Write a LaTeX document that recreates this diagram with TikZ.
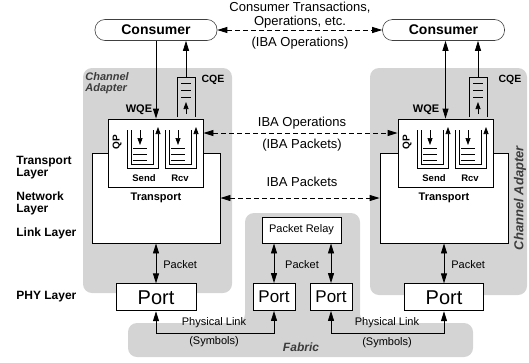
\documentclass[tikz,border=0pt]{standalone}
\usepackage{fontspec}
\setmainfont{Liberation Sans}
\usetikzlibrary{positioning,arrows.meta,calc}
\definecolor{cagray}{RGB}{212,212,212}
\definecolor{lblgray}{RGB}{60,60,60}
\newcommand{\fsz}[1]{\fontsize{#1}{#1}\selectfont}
\begin{document}
\begin{tikzpicture}[x=1pt,y=-1pt,line width=0.8pt,
    every node/.style={inner sep=1pt},
    onehead/.style={-{Triangle[length=10pt,width=6pt]}},
    twohead/.style={{Triangle[length=10pt,width=6pt]}-{Triangle[length=10pt,width=6pt]}},
    smallhead/.style={-{Triangle[length=7pt,width=5pt]}},
    ibadash/.style={twohead,dash pattern=on 5pt off 3pt},
    graybg/.style={fill=cagray,rounded corners=9pt},
    consumer/.style={draw=black!75,line width=0.6pt,fill=white,rounded corners=10pt,
        minimum width=122pt,minimum height=21pt,font=\fsz{14}\bfseries},
    plainbox/.style={draw,fill=white,inner sep=0pt},
    portbox/.style={plainbox,minimum height=27pt,font=\fsz{20}},
    layer/.style={anchor=west,align=left,font=\fontsize{12}{12}\selectfont\bfseries},
    small/.style={font=\fsz{11}}]
    \useasboundingbox (0,0) rectangle (529,362);
    % shaded regions
    \fill[graybg] (83,68) rectangle (232,293);
    \fill[graybg] (370,68) rectangle (527,295);
    \fill[graybg] (128,323) -- (245,323) -- (245,213) -- (360,213) -- (360,323)
        -- (473,323) -- (473,357) -- (128,357) -- cycle;
    \node[font=\fontsize{11}{11}\selectfont\bfseries\itshape,text=lblgray,align=left,anchor=north west] (caL) at (84,71) {Channel\\Adapter};
    \node[font=\fsz{13}\bfseries\itshape,text=lblgray,rotate=90] (caR) at (520,198) {Channel Adapter};
    \node[font=\fsz{12}\bfseries\itshape,text=lblgray] (fab) at (301,347) {Fabric};
    % consumers
    \node[consumer] (consL) at (156,30) {Consumer};
    \node[consumer] (consR) at (443.5,30) {Consumer};
    \node[align=center,font=\fontsize{13}{14}\selectfont] (trans) at (300,15) {Consumer Transactions,\\Operations, etc.};
    \node[font=\fsz{13}] (ibaop) at (300,43) {(IBA Operations)};
    \draw[ibadash] (consL) -- (consR);
    % transport and queue pairs
    \node[plainbox,minimum width=128pt,minimum height=90pt,font=\fsz{11}\bfseries] (trL) at (156,198) {Transport};
    \node[plainbox,minimum width=128pt,minimum height=90pt,font=\fsz{11}\bfseries] (trR) at (444,198) {Transport};
    \node[plainbox,minimum width=95pt,minimum height=68pt] (qpL) at (155.5,153) {};
    \node[plainbox,minimum width=95pt,minimum height=68pt] (qpR) at (445.5,153) {};
    \node[rotate=90,font=\fsz{10}\bfseries] (qpLlbl) at (117,142) {QP};
    \node[rotate=90,font=\fsz{10}\bfseries] (qpRlbl) at (407,142) {QP};
    \foreach \qx in {127,165,417,455}{
        \draw[smallhead,line width=0.7pt] (\qx,130) -- (\qx,168) -- (\qx+31,168) -- (\qx+31,127);
        \draw[line width=0.7pt] (\qx+4,130) -- (\qx+4,164) -- (\qx+26,164) -- (\qx+26,130);
        \draw[smallhead,line width=0.7pt] (\qx+13,130) -- (\qx+13,145);
        \foreach \ly in {148,154,160}
            \draw[line width=0.6pt] (\qx+6,\ly) -- (\qx+20,\ly);
    }
    \node[font=\fsz{9.5}\bfseries] (sendL) at (144,178) {Send};
    \node[font=\fsz{9.5}\bfseries] (rcvL) at (180,178) {Rcv};
    \node[font=\fsz{9.5}\bfseries] (sendR) at (434,178) {Send};
    \node[font=\fsz{9.5}\bfseries] (rcvR) at (470,178) {Rcv};
    % completion queues
    \foreach \cx in {186,478}{
        \draw[line width=0.7pt] (\cx-9,117) -- (\cx-9,77) -- (\cx+9,77) -- (\cx+9,117);
        \foreach \ly in {83,90,97}
            \draw[line width=0.6pt] (\cx-5,\ly) -- (\cx+5,\ly);
        \draw[smallhead,line width=0.7pt] (\cx,114) -- (\cx,102);
    }
    \coordinate (cqL) at (186,77);
    \coordinate (cqR) at (478,77);
    \draw[onehead] (cqL) -- (cqL |- consL.south);
    \draw[onehead] (cqR) -- (cqR |- consR.south);
    \node[font=\fsz{10.5}\bfseries] (cqeL) at (213,80) {CQE};
    \node[font=\fsz{10.5}\bfseries] (cqeR) at (510,80) {CQE};
    \draw[onehead] (consL.south) -- (consL.south |- qpL.north);
    \draw[twohead] (qpR.north) -- (qpR.north |- consR.south);
    \node[font=\fsz{11}\bfseries] (wqeL) at (139,110) {WQE};
    \node[font=\fsz{11}\bfseries] (wqeR) at (426,110) {WQE};
    % peer links
    \draw[ibadash] ([yshift=20pt]qpL.east) -- ([yshift=20pt]qpR.west);
    \node[font=\fsz{13}] (ibaop2) at (302,123) {IBA Operations};
    \node[font=\fsz{13}] (ibapk) at (302,145) {(IBA Packets)};
    \draw[ibadash] (trL) -- (trR);
    \node[font=\fsz{13}] (ibapk2) at (302,182) {IBA Packets};
    % ports and fabric
    \node[portbox,minimum width=80pt,below=40pt of trL] (portL) {Port};
    \node[portbox,minimum width=79pt,below=40pt of trR] (portR) {Port};
    \node[plainbox,minimum width=79pt,minimum height=26pt,small] (relay) at (301.5,230) {Packet Relay};
    \node[portbox,minimum width=42pt,font=\fsz{17}] (fp1) at (274,297) {Port};
    \node[portbox,minimum width=42pt,font=\fsz{17}] (fp2) at (331,297) {Port};
    \draw[twohead] (trL) -- (portL);
    \draw[twohead] (trR) -- (portR);
    \draw[twohead] (fp1.north) -- (fp1.north |- relay.south);
    \draw[twohead] (fp2.north) -- (fp2.north |- relay.south);
    \node[small,anchor=west] (pkL) at (162,265) {Packet};
    \node[small,anchor=west] (pkR) at (450,265) {Packet};
    \node[small] (pkF) at (302,265) {Packet};
    \draw[twohead] (portL.south) -- ++(0,22) -| (fp1.south);
    \draw[twohead] (fp2.south) -- ++(0,22) -| (portR.south);
    \node[small] (plL) at (214,323) {Physical Link};
    \node[small] (symL) at (214,342) {(Symbols)};
    \node[small] (plR) at (387,323) {Physical Link};
    \node[small] (symR) at (387,343) {(Symbols)};
    % layers
    \node[layer] (lyT) at (15,168) {Transport\\Layer};
    \node[layer] (lyN) at (15,203) {Network\\Layer};
    \node[layer] (lyL) at (15,233) {Link Layer};
    \node[layer] (lyP) at (15,297) {PHY Layer};
\end{tikzpicture}
\end{document}
